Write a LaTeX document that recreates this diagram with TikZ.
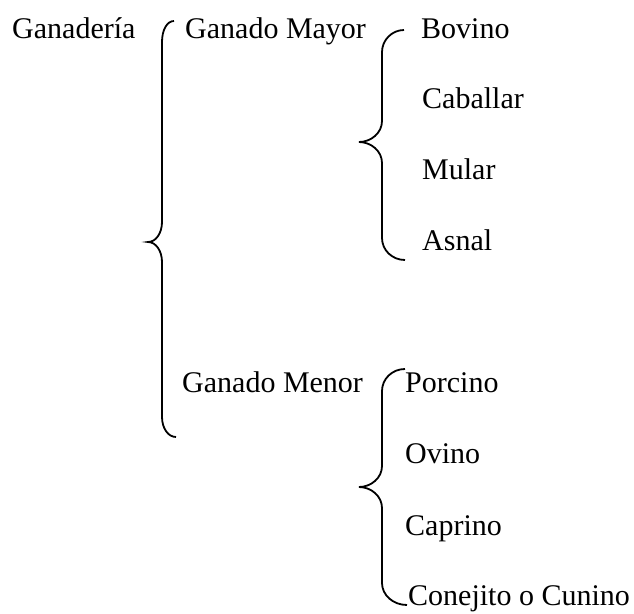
\documentclass[tikz,border=0pt]{standalone}
\usepackage{fontspec}
\setmainfont{Liberation Serif}
\begin{document}
\begin{tikzpicture}[x=1pt,y=-1pt,
        voce/.style={anchor=base west, inner sep=0pt, font=\fontsize{30}{36}\selectfont},
        graffa/.style={line width=1.8pt}]
        % Riquadro della figura
        \useasboundingbox (0,0) rectangle (634,613);

        % Primo livello
        \node[voce] (ganaderia) at (12,38) {Ganadería};

        % Graffa grande
        \draw[graffa] (174,21) .. controls (167,21) and (162,30) .. (162,42) -- (162,222) .. controls (162,233) and (156,242) .. (148,242) .. controls (156,242) and (162,251) .. (162,262) -- (162,417) .. controls (162,428) and (168,437) .. (176,437);

        % Secondo livello
        \node[voce] (mayor) at (185,38) {Ganado Mayor};
        \node[voce] (menor) at (182,392) {Ganado Menor};

        % Graffa del ganado mayor
        \draw[graffa] (404,30) .. controls (392,30) and (382,40) .. (382,52) -- (382,121) .. controls (382,133) and (371,142) .. (359,142) .. controls (371,142) and (382,151) .. (382,163) -- (382,238) .. controls (382,250) and (392,260) .. (405,260);

        \node[voce] (bovino) at (421,38) {Bovino};
        \node[voce] (caballar) at (422,108) {Caballar};
        \node[voce] (mular) at (422,179) {Mular};
        \node[voce] (asnal) at (422,250) {Asnal};

        % Graffa del ganado menor
        \draw[graffa] (405,369) .. controls (392,369) and (382,379) .. (382,391) -- (382,466) .. controls (382,478) and (371,487) .. (359,487) .. controls (371,487) and (382,496) .. (382,508) -- (382,583) .. controls (382,595) and (393,605) .. (407,605);

        \node[voce] (porcino) at (405,392) {Porcino};
        \node[voce] (ovino) at (405,463) {Ovino};
        \node[voce] (caprino) at (405,535) {Caprino};
        \node[voce] (conejito) at (408,605) {Conejito o Cunino};
    \end{tikzpicture}
\end{document}
